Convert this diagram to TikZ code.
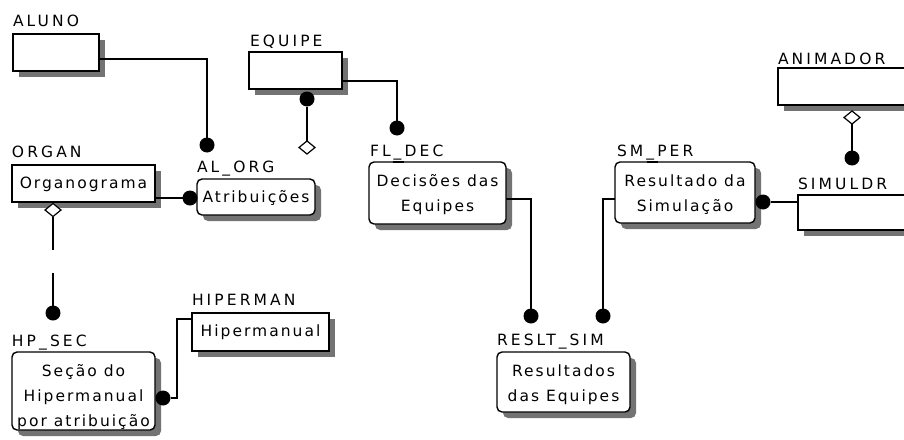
\documentclass[tikz,border=0pt]{standalone}
\usepackage{fontspec}
\usetikzlibrary{shapes.geometric,calc}
\newfontfamily\erfont[LetterSpace=13]{DejaVu Sans}
\newfontfamily\lblfont[LetterSpace=20]{DejaVu Sans}
\pgfdeclarelayer{background}
\pgfdeclarelayer{shadowlayer}
\pgfsetlayers{shadowlayer,background,main}
\begin{document}
\begin{tikzpicture}[x=1pt,y=-1pt,
  every node/.style={inner sep=0pt,outer sep=0pt},
  ebox/.style={draw,line width=1.4pt,fill=white},
  rbox/.style={ebox,rounded corners=5pt},
  shad/.style={fill=black!55},
  etext/.style={font=\erfont\fontsize{15.5}{25}\selectfont,align=center},
  lbl/.style={font=\lblfont\fontsize{15.5}{17}\selectfont,anchor=base west},
  dotn/.style={circle,fill=black,minimum size=15pt},
  dia/.style={diamond,draw,line width=1.2pt,fill=white,minimum width=16pt,minimum height=13pt},
  conn/.style={line width=1.5pt},
  topmark/.style={line width=2.8pt}]
\useasboundingbox (0,0) rectangle (904,439);
\clip (0,0) rectangle (904,439);

% entity boxes
\node[ebox,minimum width=86pt,minimum height=37pt] (aluno) at (56,52.5) {};
\node[ebox,minimum width=93pt,minimum height=37pt] (equipe) at (295.5,70.5) {};
\node[ebox,minimum width=143pt,minimum height=37pt] (organ) at (83.5,183.5) {};
\node[rbox,minimum width=118pt,minimum height=36pt] (alorg) at (256,197) {};
\node[rbox,minimum width=137pt,minimum height=62pt] (fldec) at (437.5,193) {};
\node[rbox,minimum width=140pt,minimum height=61pt] (smper) at (685,192.5) {};
\node[ebox,minimum width=140pt,minimum height=35pt] (simuldr) at (868,212.5) {};
\node[ebox,minimum width=140pt,minimum height=37pt] (animador) at (848,86.5) {};
\node[rbox,minimum width=143pt,minimum height=78pt] (hpsec) at (83.5,391) {};
\node[ebox,minimum width=137pt,minimum height=38pt] (hiperman) at (260.5,332) {};
\node[rbox,minimum width=133pt,minimum height=60pt] (resltsim) at (563.5,382) {};

% shadows
\begin{pgfonlayer}{shadowlayer}
\foreach \n in {aluno,equipe,organ,simuldr,animador,hiperman}
  \fill[shad] ([shift={(6pt,-6pt)}]\n.south west) rectangle ([shift={(6pt,-6pt)}]\n.north east);
\foreach \n in {alorg,fldec,smper,hpsec,resltsim}
  \fill[shad,rounded corners=5pt] ([shift={(6pt,-6pt)}]\n.south west) rectangle ([shift={(6pt,-6pt)}]\n.north east);
\end{pgfonlayer}

% texts inside boxes
\node[etext] (torgan) at (83.5,184) {Organograma};
\node[etext] (talorg) at (256,198) {Atribuições};
\node[etext] (tfldec) at (437.5,195) {Decisões das\\Equipes};
\node[etext] (tsmper) at (685,195) {Resultado da\\Simulação};
\node[etext] (thpsec) at (83.5,397) {Seção do\\Hipermanual\\por atribuição};
\node[etext] (thiper) at (260.5,332) {Hipermanual};
\node[etext] (treslt) at (563.5,385) {Resultados\\das Equipes};

% labels
\node[lbl] (laluno) at (13,27) {ALUNO};
\node[lbl] (lequipe) at (250,46) {EQUIPE};
\node[lbl] (lorgan) at (12,157) {ORGAN};
\node[lbl] (lalorg) at (197,172) {AL\_ORG};
\node[lbl] (lfldec) at (370,156) {FL\_DEC};
\node[lbl] (lsmper) at (617,156) {SM\_PER};
\node[lbl] (lsimuldr) at (798,189) {SIMULDR};
\node[lbl] (lanimador) at (778,64) {ANIMADOR};
\node[lbl] (lhiperman) at (192,305) {HIPERMAN};
\node[lbl] (lhpsec) at (12,346) {HP\_SEC};
\node[lbl] (lreslt) at (497,345) {RESLT\_SIM};

% dots and diamonds
\node[dotn] (d1) at (207,145) {};
\node[dotn] (d2) at (190,198) {};
\node[dotn] (d3) at (307,99) {};
\node[dotn] (d4) at (397,128) {};
\node[dotn] (d5) at (531,316) {};
\node[dotn] (d6) at (603,316) {};
\node[dotn] (d7) at (763,202) {};
\node[dotn] (d8) at (852,158) {};
\node[dotn] (d9) at (53,313) {};
\node[dotn] (d10) at (163,398) {};
\node[dia] (m1) at (307,147.5) {};
\node[dia] (m2) at (852,117.5) {};
\node[dia] (m3) at (53,210) {};

\coordinate (g1) at (53,250);
\coordinate (g2) at (53,273);
\coordinate (k1) at (177,398);

\begin{pgfonlayer}{background}
\draw[conn] ([yshift=-6.5pt]aluno.east) -| (d1);
\draw[conn] (organ.east |- d2) -- (d2);
\draw[conn] (d3) -- (m1);
\draw[conn] ([yshift=-10.5pt]equipe.east) -| (d4);
\draw[conn] ([yshift=-6pt]fldec.east) -| (d5);
\draw[conn] ([yshift=-6.5pt]smper.west) -| (d6);
\draw[conn] (d7) -- (d7 -| simuldr.west);
\draw[conn] (m2) -- (d8);
\draw[conn] (m3) -- (g1);
\draw[conn] (g2) -- (d9);
\draw[conn] (d10) -- (k1) |- ([yshift=13pt]hiperman.west);
\end{pgfonlayer}

\draw[topmark] ([xshift=-45pt]fldec.north) -- ([xshift=-34pt]fldec.north);
\draw[topmark] ([xshift=-38pt]smper.north) -- ([xshift=-27pt]smper.north);
\end{tikzpicture}
\end{document}
